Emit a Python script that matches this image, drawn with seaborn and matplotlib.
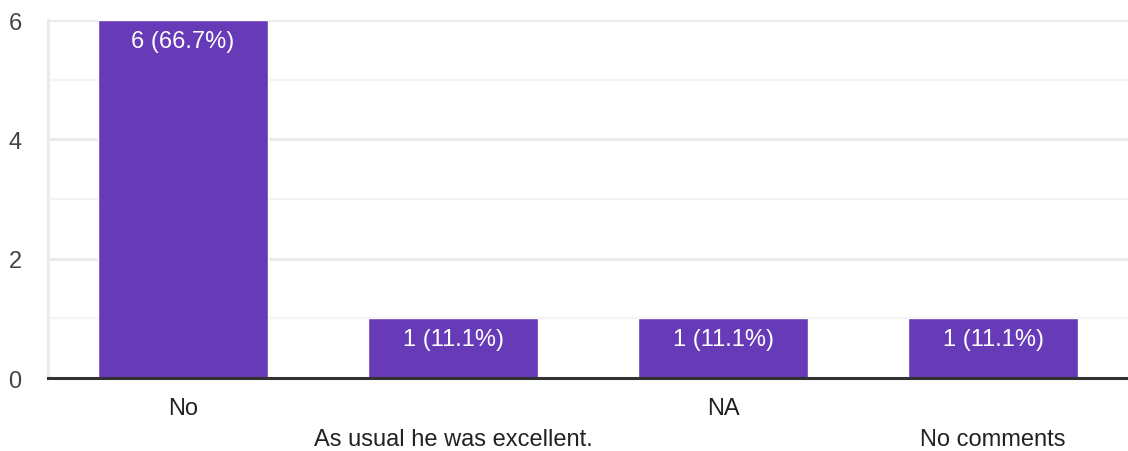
import matplotlib
matplotlib.use("Agg")
import matplotlib.pyplot as plt
import seaborn as sns
import pandas as pd

# Responses and their counts
categories = ["No", "As usual he was excellent.", "NA", "No comments"]
counts = [6, 1, 1, 1]
y_ticks = [0, 2, 4, 6]

sns.set_theme(style="white")
plt.rcParams["font.family"] = ["Liberation Sans", "DejaVu Sans"]

df = pd.DataFrame({"response": categories, "count": counts})
total = sum(counts)

fig = plt.figure(figsize=(11.28, 4.52), dpi=100)
ax = fig.add_axes([0.0426, 0.1615, 0.9574, 0.792])

sns.barplot(data=df, x="response", y="count", color="#673AB7", saturation=1,
            width=0.63, ax=ax, zorder=3)

ax.set_ylim(0, 6)
ax.set_xlim(-0.5, 3.5)

# light grid: every unit, the labelled ones slightly stronger
for v in [1, 3, 5]:
    ax.axhline(v, color="#f3f3f3", lw=1.6, zorder=1)
for v in [2, 4, 6]:
    ax.axhline(v, color="#ebebeb", lw=2.2, zorder=1)

for s in ["top", "right"]:
    ax.spines[s].set_visible(False)
ax.spines["left"].set_color("#ebebeb")
ax.spines["left"].set_linewidth(2.2)
ax.spines["bottom"].set_color("#333333")
ax.spines["bottom"].set_linewidth(2.2)
ax.spines["bottom"].set_zorder(4)

ax.set_yticks(y_ticks)
ax.set_yticklabels([str(t) for t in y_ticks], fontsize=17, color="#444444")
ax.tick_params(axis="y", length=0, pad=19)

# stagger the category labels onto two rows
xlabels = [c if i % 2 == 0 else "\n" + c for i, c in enumerate(categories)]
ax.set_xticks(range(len(categories)))
ax.set_xticklabels(xlabels, fontsize=17, color="#222222", linespacing=1.5)
ax.tick_params(axis="x", length=0, pad=14)

ax.set_xlabel("")
ax.set_ylabel("")

# value labels inside the top of each bar
for i, c in enumerate(counts):
    ax.annotate(f"{c} ({c / total * 100:.1f}%)", xy=(i, c), xytext=(0, -7),
                textcoords="offset points", ha="center", va="top",
                fontsize=17, color="white", zorder=5)

fig.savefig("out.png", dpi=100)
